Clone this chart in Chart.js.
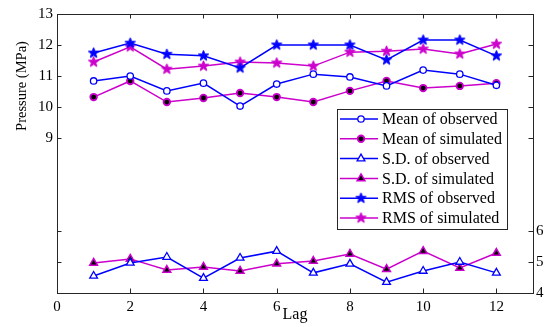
<!DOCTYPE html>
<html>
<head>
<meta charset="utf-8">
<title>Pressure statistics by lag</title>
<script src="https://cdn.jsdelivr.net/npm/chart.js@4.4.0/dist/chart.umd.min.js"></script>
<style>
  html, body { margin: 0; padding: 0; background: #fff; }
  #wrap { width: 548px; height: 327px; }
</style>
</head>
<body>
<div id="wrap"><canvas id="grafico" width="548" height="327"></canvas></div>
<script>
// lag values on the x axis
var lags = [1, 2, 3, 4, 5, 6, 7, 8, 9, 10, 11, 12];

// mean and RMS are read on the left axis, S.D. on the right one
var meanObserved  = [10.84, 11.00, 10.52, 10.77, 10.03, 10.74, 11.06, 10.97, 10.68, 11.19, 11.06, 10.70];
var meanSimulated = [10.32, 10.84, 10.16, 10.29, 10.45, 10.32, 10.16, 10.52, 10.84, 10.61, 10.68, 10.77];
var sdObserved    = [4.55, 4.97, 5.16, 4.48, 5.13, 5.35, 4.65, 4.94, 4.35, 4.71, 5.00, 4.65];
var sdSimulated   = [4.97, 5.10, 4.74, 4.84, 4.71, 4.94, 5.03, 5.26, 4.77, 5.35, 4.81, 5.29];
var rmsObserved   = [11.74, 12.06, 11.70, 11.65, 11.26, 12.00, 12.00, 12.00, 11.52, 12.16, 12.16, 11.65];
var rmsSimulated  = [11.45, 11.94, 11.22, 11.32, 11.45, 11.42, 11.32, 11.77, 11.80, 11.87, 11.71, 12.03];

// tick labels
var xTicks = [0, 2, 4, 6, 8, 10, 12];
var leftTicks = [9, 10, 11, 12, 13];
var rightTicks = [4, 5, 6];

var AZUL = '#0000ff';
var MAGENTA = '#cc00cc';
var FONTE = '"Liberation Serif", "DejaVu Serif", serif';

// pentagram marker drawn once into a small canvas
function criarEstrela(cor, raio) {
	var tam = Math.ceil(raio * 2 + 4);
	var c = document.createElement('canvas');
	c.width = tam;
	c.height = tam;
	var g = c.getContext('2d');
	var cx = tam / 2, cy = tam / 2, interno = raio * 0.42;
	g.beginPath();
	for (var i = 0; i < 10; i++) {
		var r = i % 2 === 0 ? raio : interno;
		var a = -Math.PI / 2 + i * Math.PI / 5;
		var px = cx + r * Math.cos(a), py = cy + r * Math.sin(a);
		if (i === 0) g.moveTo(px, py); else g.lineTo(px, py);
	}
	g.closePath();
	g.fillStyle = cor;
	g.fill();
	g.strokeStyle = cor;
	g.lineWidth = 1;
	g.stroke();
	return c;
}

var estrelaAzul = criarEstrela(AZUL, 5.5);
var estrelaMagenta = criarEstrela(MAGENTA, 5.5);

function serie(label, valores, eixo, cor, estilo, fundo, raio, borda) {
	return {
		label: label,
		data: valores.map(function(v, i) { return { x: lags[i], y: v }; }),
		yAxisID: eixo,
		borderColor: cor,
		borderWidth: 1.5,
		pointStyle: estilo,
		pointRadius: raio,
		pointBackgroundColor: fundo,
		pointBorderColor: cor,
		pointBorderWidth: borda,
		tension: 0
	};
}

var datasets = [
	serie('Mean of observed', meanObserved, 'y', AZUL, 'circle', '#fff', 3.2, 1.3),
	serie('Mean of simulated', meanSimulated, 'y', MAGENTA, 'circle', '#000', 3.3, 1.8),
	serie('S.D. of observed', sdObserved, 'y2', AZUL, 'triangle', '#fff', 4.5, 1.3),
	serie('S.D. of simulated', sdSimulated, 'y2', MAGENTA, 'triangle', '#000', 4.5, 1.5),
	serie('RMS of observed', rmsObserved, 'y', AZUL, estrelaAzul, AZUL, 5, 1),
	serie('RMS of simulated', rmsSimulated, 'y', MAGENTA, estrelaMagenta, MAGENTA, 5, 1)
];

// box around the plot area with inward tick marks on all four sides
var molduraPlugin = {
	id: 'moldura',
	afterDatasetsDraw: function(chart) {
		var ctx = chart.ctx, area = chart.chartArea, s = chart.scales;
		var comp = 4.5;
		ctx.save();
		ctx.strokeStyle = '#262626';
		ctx.lineWidth = 1;
		ctx.strokeRect(Math.round(area.left) + 0.5, Math.round(area.top) + 0.5,
			Math.round(area.right - area.left), Math.round(area.bottom - area.top));
		ctx.beginPath();
		s.x.ticks.forEach(function(t) {
			var px = Math.round(s.x.getPixelForValue(t.value)) + 0.5;
			ctx.moveTo(px, area.bottom);
			ctx.lineTo(px, area.bottom - comp);
			ctx.moveTo(px, area.top);
			ctx.lineTo(px, area.top + comp);
		});
		[s.y, s.y2].forEach(function(escala) {
			escala.ticks.forEach(function(t) {
				var py = Math.round(escala.getPixelForValue(t.value)) + 0.5;
				ctx.moveTo(area.left, py);
				ctx.lineTo(area.left + comp, py);
				ctx.moveTo(area.right, py);
				ctx.lineTo(area.right - comp, py);
			});
		});
		ctx.stroke();

		// y axis title sits beside the labelled part of the left axis
		ctx.fillStyle = '#000';
		ctx.font = '14.5px ' + FONTE;
		ctx.textAlign = 'center';
		ctx.textBaseline = 'middle';
		ctx.translate(22, 86);
		ctx.rotate(-Math.PI / 2);
		ctx.fillText('Pressure (MPa)', 0, 0);
		ctx.restore();
	}
};

// legend box inside the plot, one row per dataset
var legendaPlugin = {
	id: 'legenda',
	afterDraw: function(chart) {
		var ctx = chart.ctx;
		var x0 = 337, y0 = 109, larg = 170, alt = 120;
		ctx.save();
		ctx.fillStyle = '#fff';
		ctx.fillRect(x0, y0, larg, alt);
		ctx.strokeStyle = '#262626';
		ctx.lineWidth = 1;
		ctx.strokeRect(x0 + 0.5, y0 + 0.5, larg, alt);
		chart.data.datasets.forEach(function(ds, i) {
			var y = y0 + 10 + i * 19.8;
			ctx.strokeStyle = ds.borderColor;
			ctx.lineWidth = ds.borderWidth;
			ctx.beginPath();
			ctx.moveTo(x0 + 3, y);
			ctx.lineTo(x0 + 41, y);
			ctx.stroke();
			ctx.fillStyle = ds.pointBackgroundColor;
			ctx.strokeStyle = ds.pointBorderColor;
			ctx.lineWidth = ds.pointBorderWidth;
			Chart.helpers.drawPoint(ctx, {
				pointStyle: ds.pointStyle,
				radius: ds.pointRadius,
				borderWidth: ds.pointBorderWidth,
				rotation: 0
			}, x0 + 24, y);
			ctx.fillStyle = '#000';
			ctx.font = '16px ' + FONTE;
			ctx.textAlign = 'left';
			ctx.textBaseline = 'middle';
			ctx.fillText(ds.label, x0 + 45, y + 1);
		});
		ctx.restore();
	}
};

function fixarTicks(lista) {
	return function(escala) {
		escala.ticks = lista.map(function(v) { return { value: v }; });
	};
}

var fonteTicks = { family: FONTE, size: 15 };

new Chart(document.getElementById('grafico').getContext('2d'), {
	type: 'line',
	data: { datasets: datasets },
	plugins: [molduraPlugin, legendaPlugin],
	options: {
		responsive: false,
		animation: false,
		layout: { padding: { top: 14, left: 0, right: 0, bottom: 0 } },
		plugins: {
			legend: { display: false },
			tooltip: { enabled: false }
		},
		scales: {
			x: {
				type: 'linear',
				min: 0,
				max: 13,
				afterBuildTicks: fixarTicks(xTicks),
				afterFit: function(escala) { escala.height = 34; },
				grid: { display: false, drawTicks: false },
				border: { display: false },
				ticks: { color: '#000', font: fonteTicks, padding: 5, maxRotation: 0, autoSkip: false },
				title: {
					display: true,
					text: 'Lag',
					color: '#000',
					font: { family: FONTE, size: 16 },
					padding: { top: 0, bottom: 3 }
				}
			},
			y: {
				type: 'linear',
				position: 'left',
				min: 4,
				max: 13,
				afterBuildTicks: fixarTicks(leftTicks),
				afterFit: function(escala) { escala.width = 57; },
				grid: { display: false, drawTicks: false },
				border: { display: false },
				ticks: { color: '#000', font: fonteTicks, padding: 4, autoSkip: false }
			},
			y2: {
				type: 'linear',
				position: 'right',
				min: 4,
				max: 13,
				afterBuildTicks: fixarTicks(rightTicks),
				afterFit: function(escala) { escala.width = 15; },
				grid: { display: false, drawTicks: false },
				border: { display: false },
				ticks: { color: '#000', font: fonteTicks, padding: 3, autoSkip: false }
			}
		}
	}
});
</script>
</body>
</html>
